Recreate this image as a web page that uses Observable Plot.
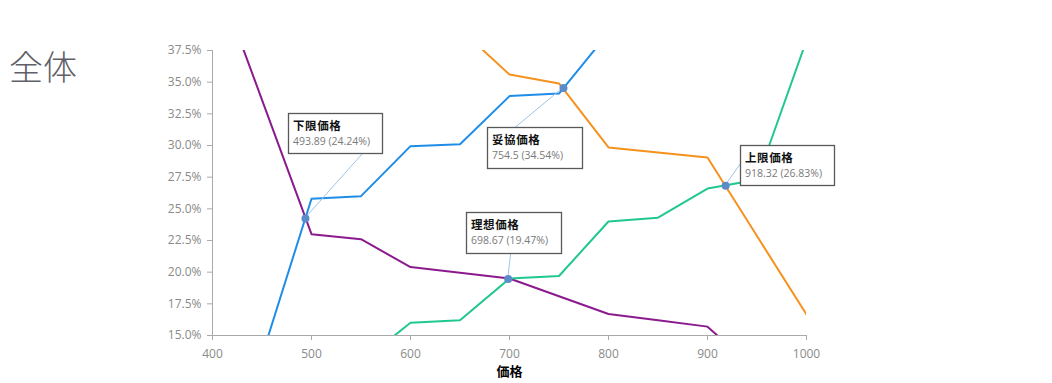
<!DOCTYPE html>
<html><head><meta charset="utf-8">
<script src="https://cdn.jsdelivr.net/npm/d3@7"></script>
<script src="https://cdn.jsdelivr.net/npm/@observablehq/plot@0.6"></script>
<style>
body{margin:0;background:#fff;}
#wrap{position:relative;width:1052px;height:383px;overflow:hidden;}
#title{position:absolute;left:9px;top:49px;font-size:34px;font-family:"Noto Sans CJK JP";font-weight:300;color:#5f6068;line-height:1;}
</style></head><body>
<div id="wrap"><div id="chart"></div><div id="title">全体</div></div>
<script>
// ---- data ----
const prices = [400, 450, 500, 550, 600, 650, 700, 750, 800, 850, 900, 950, 1000];
const seriesNames = ["安すぎる", "安い", "高い", "高すぎる"];
const tooCheap     = [44.2, 33.6, 23.0, 22.6, 20.4, 19.95, 19.5, 18.1, 16.7, 16.2, 15.7, 12.2, 10.0];
const cheap        = [5.0, 13.4, 25.8, 26.0, 29.95, 30.1, 33.9, 34.1, 38.9, 43.0, 47.0, 50.0, 53.0];
const expensive    = [54.0, 51.0, 48.0, 45.0, 42.0, 39.2, 35.6, 34.9, 29.85, 29.45, 29.05, 22.85, 16.66];
const tooExpensive = [5.0, 8.0, 10.0, 12.9, 16.0, 16.2, 19.5, 19.7, 24.0, 24.3, 26.6, 27.3, 38.3];
const pointNames = ["下限価格", "妥協価格", "理想価格", "上限価格"];
const pointX = [493.89, 754.5, 698.67, 918.32];
const pointY = [24.24, 34.54, 19.47, 26.83];
const xTicks = [400, 500, 600, 700, 800, 900, 1000];
const yTicks = [15, 17.5, 20, 22.5, 25, 27.5, 30, 32.5, 35, 37.5];
const xLabel = "価格";

// ---- styles ----
const seriesColors = ["#8b1a8e", "#1f8de8", "#f5921e", "#21c88e"];
// label box layout in px relative to the point: box offset, box size, leader end
const labelLayout = [
  {dx: -17, dy: -105, w: 94, h: 40, lx: 58, ly: -65},
  {dx: -76, dy: 40, w: 95, h: 41, lx: -48, ly: 40},
  {dx: -42, dy: -66, w: 95, h: 41, lx: 3, ly: -25},
  {dx: 15, dy: -40, w: 94, h: 40, lx: 15, ly: -21}
];

const allSeries = [tooCheap, cheap, expensive, tooExpensive];
const rows = [];
allSeries.forEach((vals, s) => prices.forEach((p, i) => rows.push({series: seriesNames[s], x: p, y: vals[i]})));
const points = pointNames.map((n, i) => ({name: n, x: pointX[i], y: pointY[i]}));

function annotations(index, scales, values, dimensions, context) {
  const g = d3.create("svg:g").attr("text-anchor", "start");
  points.forEach((p, i) => {
    const px = scales.x(p.x), py = scales.y(p.y);
    const o = labelLayout[i];
    g.append("line").attr("x1", px).attr("y1", py).attr("x2", px + o.lx).attr("y2", py + o.ly)
      .attr("stroke", "#9fc4e6").attr("stroke-width", 1);
    const bx = Math.round(px + o.dx), by = Math.round(py + o.dy);
    g.append("rect").attr("x", bx + 0.5).attr("y", by + 0.5).attr("width", o.w).attr("height", o.h)
      .attr("fill", "#fff").attr("stroke", "#595959").attr("stroke-width", 1.3);
    g.append("text").attr("x", bx + 5).attr("y", by + 17).text(p.name)
      .attr("font-family", "Noto Sans CJK JP").attr("font-size", 11.5).attr("font-weight", "bold")
      .attr("letter-spacing", "0.6px").attr("fill", "#111");
    g.append("text").attr("x", bx + 5).attr("y", by + 32).text(`${p.x} (${p.y}%)`)
      .attr("font-family", "Open Sans").attr("font-size", 10.5).attr("fill", "#7a7a7a");
  });
  return g.node();
}

const chart = Plot.plot({
  width: 1052, height: 383,
  marginLeft: 212, marginRight: 246, marginTop: 50, marginBottom: 48,
  style: {fontFamily: "Open Sans", fontSize: "12px", color: "#8a8a8a", background: "#fff"},
  x: {domain: [400, 1000]},
  y: {domain: [15, 37.5]},
  color: {domain: seriesNames, range: seriesColors},
  marks: [
    Plot.axisX({ticks: xTicks, tickSize: 5, tickPadding: 9, stroke: "#aaa", fill: "#8a8a8a", label: null,
      fontSize: 12, tickFormat: d => String(d)}),
    Plot.axisY({ticks: yTicks, tickSize: 5, tickPadding: 6, stroke: "#aaa", fill: "#8a8a8a", label: null,
      fontSize: 12, tickFormat: d => d.toFixed(1) + "%"}),
    Plot.ruleX([400], {stroke: "#aaa"}),
    Plot.ruleY([15], {stroke: "#aaa"}),
    Plot.line(rows, {x: "x", y: "y", z: "series", stroke: "series", strokeWidth: 2, clip: true}),
    annotations,
    Plot.dot(points, {x: "x", y: "y", r: 4, fill: "#5b8bc9"}),
    Plot.text([xLabel], {frameAnchor: "bottom", dy: 40, fontWeight: "bold", fill: "#000", fontSize: 13,
      fontFamily: "Noto Sans CJK JP"})
  ]
});
document.getElementById("chart").appendChild(chart);
</script>
</body></html>
